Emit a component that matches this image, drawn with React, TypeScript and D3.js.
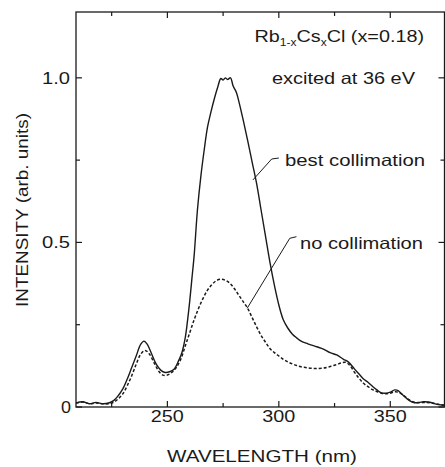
import React from "react";
import * as d3 from "d3";

const solidWl = [209, 212, 215, 218, 221, 224, 226, 228, 230, 232, 234, 236, 238, 239.5, 241, 243, 245, 247, 249, 251, 253, 255, 256.5, 258, 259, 260, 261, 262, 263.5, 265, 266.5, 268, 269.5, 271, 272.5, 274, 275, 276, 277, 278.3, 279.5, 281, 282, 284, 286, 288, 290, 292, 294, 296, 298, 300, 302, 304, 306, 308, 310, 313, 317, 320, 323, 326, 329, 331, 334, 336, 338, 340, 342, 344, 346, 348, 350, 352, 353.5, 355, 357, 359, 361, 363, 365, 367, 369, 371, 373, 375];
const solidVal = [0.012, 0.016, 0.01, 0.014, 0.01, 0.013, 0.02, 0.035, 0.055, 0.085, 0.12, 0.155, 0.19, 0.2, 0.19, 0.16, 0.13, 0.112, 0.105, 0.107, 0.115, 0.14, 0.165, 0.21, 0.26, 0.32, 0.39, 0.46, 0.6, 0.7, 0.78, 0.85, 0.895, 0.935, 0.97, 0.998, 0.993, 1.0, 0.995, 1.0, 0.975, 0.955, 0.93, 0.872, 0.81, 0.745, 0.68, 0.6, 0.52, 0.44, 0.37, 0.31, 0.265, 0.24, 0.222, 0.21, 0.2, 0.192, 0.183, 0.176, 0.165, 0.158, 0.145, 0.138, 0.115, 0.1, 0.085, 0.075, 0.063, 0.052, 0.043, 0.042, 0.045, 0.052, 0.05, 0.04, 0.028, 0.018, 0.013, 0.014, 0.016, 0.015, 0.012, 0.008, 0.006, 0.005];

const dashWl = [209, 212, 215, 218, 221, 224, 226, 228, 230, 232, 234, 236, 238, 240, 242, 244, 246, 248, 250, 252, 254, 256, 258, 260, 262, 264, 266, 268, 270, 272, 274, 276, 278, 280, 282, 284, 286, 288, 290, 292, 294, 296, 298, 300, 302, 304, 306, 308, 310, 312, 314, 316, 318, 320, 322, 324, 326, 328, 330, 332, 334, 336, 338, 340, 342, 344, 346, 348, 350, 352, 354, 356, 358, 360, 362, 365, 368, 371, 375];
const dashVal = [0.012, 0.015, 0.01, 0.012, 0.01, 0.01, 0.015, 0.025, 0.04, 0.065, 0.095, 0.13, 0.16, 0.172, 0.16, 0.135, 0.11, 0.097, 0.097, 0.105, 0.12, 0.145, 0.185, 0.225, 0.265, 0.3, 0.33, 0.355, 0.372, 0.384, 0.388, 0.385, 0.376, 0.36, 0.34, 0.32, 0.3, 0.272, 0.244, 0.218, 0.197, 0.178, 0.165, 0.155, 0.145, 0.137, 0.131, 0.126, 0.122, 0.12, 0.118, 0.117, 0.117, 0.118, 0.121, 0.125, 0.129, 0.134, 0.136, 0.125, 0.105, 0.087, 0.072, 0.062, 0.053, 0.047, 0.042, 0.04, 0.042, 0.046, 0.044, 0.035, 0.024, 0.016, 0.013, 0.014, 0.013, 0.009, 0.005];

const xMajorTicks = [250, 300, 350];
const xMinorTicks = [225, 275, 325, 375];
const yMajorTicks = [0, 0.5, 1.0];
const yMinorTicks = [0.25, 0.75];
const yTickLabels = ["0", "0.5", "1.0"];

const W = 445, H = 467;
const L = 76, R = 444.5, T = 12, B = 407;
const FONT = "'Liberation Sans', Arial, Helvetica, sans-serif";
const INK = "#1a1a1a";
const FS = 16.5;

export default function App() {
  const x = d3.scaleLinear().domain([209, 375]).range([L, 446]);
  const y = d3.scaleLinear().domain([0, 1.2]).range([B, T]);
  const line = d3.line<[number, number]>().x(d => x(d[0])).y(d => y(d[1])).curve(d3.curveCatmullRom);
  const solid = solidWl.map((w, i) => [w, solidVal[i]] as [number, number]);
  const dashed = dashWl.map((w, i) => [w, dashVal[i]] as [number, number]);

  const bestPath = `M${x(300)},158 L${x(296.8)},159 L${x(288.4)},${y(0.69)}`;
  const noPath = `M${x(307.9)},236.7 L${x(304.9)},238.3 L${x(285.8)},${y(0.30)}`;

  const txt = { fontFamily: FONT, fontSize: FS, fill: INK } as const;

  return (
    <svg width={W} height={H} style={{ position: "absolute", left: 0, top: 0, background: "#fff" }}>
      <defs>
        <clipPath id="plot"><rect x={L} y={T} width={R - L} height={B - T} /></clipPath>
      </defs>
      <rect x={0} y={0} width={W} height={H} fill="#fff" />
      <g clipPath="url(#plot)">
        <path d={line(dashed) || ""} fill="none" stroke={INK} strokeWidth={1.5} strokeDasharray="3,2" />
        <path d={line(solid) || ""} fill="none" stroke={INK} strokeWidth={1.4} />
      </g>
      <rect x={L} y={T} width={R - L} height={B - T} fill="none" stroke={INK} strokeWidth={1.3} />
      {xMajorTicks.map(t => (
        <g key={"xm" + t}>
          <line x1={x(t)} x2={x(t)} y1={B} y2={B - 6} stroke={INK} strokeWidth={1.2} />
          <line x1={x(t)} x2={x(t)} y1={T} y2={T + 6} stroke={INK} strokeWidth={1.2} />
          <text x={x(t) - 16.5} y={422} textLength={33} lengthAdjust="spacingAndGlyphs" {...txt}>{t}</text>
        </g>
      ))}
      {xMinorTicks.map(t => (
        <g key={"xn" + t}>
          <line x1={x(t)} x2={x(t)} y1={B} y2={B - 4} stroke={INK} strokeWidth={1.2} />
          <line x1={x(t)} x2={x(t)} y1={T} y2={T + 4} stroke={INK} strokeWidth={1.2} />
        </g>
      ))}
      {yMajorTicks.map((t, i) => {
        const w = yTickLabels[i].length === 1 ? 10 : 28;
        const right = yTickLabels[i].length === 1 ? 71 : 70;
        return (
          <g key={"ym" + t}>
            <line x1={L} x2={L + 6} y1={y(t)} y2={y(t)} stroke={INK} strokeWidth={1.2} />
            <line x1={R} x2={R - 6} y1={y(t)} y2={y(t)} stroke={INK} strokeWidth={1.2} />
            <text x={right - w} y={y(t) + 6} textLength={w} lengthAdjust="spacingAndGlyphs" {...txt}>{yTickLabels[i]}</text>
          </g>
        );
      })}
      {yMinorTicks.map(t => (
        <g key={"yn" + t}>
          <line x1={L} x2={L + 4} y1={y(t)} y2={y(t)} stroke={INK} strokeWidth={1.2} />
          <line x1={R} x2={R - 4} y1={y(t)} y2={y(t)} stroke={INK} strokeWidth={1.2} />
        </g>
      ))}
      <text x={167} y={462} textLength={190} lengthAdjust="spacingAndGlyphs" {...txt}>WAVELENGTH (nm)</text>
      <text transform="translate(28,307) rotate(-90)" textLength={194} lengthAdjust="spacingAndGlyphs" {...txt} fontSize={17}>INTENSITY (arb. units)</text>
      <text transform="translate(424,42) scale(1.2,1)" textAnchor="end" {...txt}>
        Rb<tspan fontSize={10} dy={4}>1-x</tspan><tspan dy={-4}>Cs</tspan><tspan fontSize={10} dy={4}>x</tspan><tspan dy={-4}>Cl (x=0.18)</tspan>
      </text>
      <text x={272} y={84} textLength={143} lengthAdjust="spacingAndGlyphs" {...txt}>excited at 36 eV</text>
      <text x={285} y={166} textLength={140} lengthAdjust="spacingAndGlyphs" {...txt}>best collimation</text>
      <text x={300} y={249} textLength={123} lengthAdjust="spacingAndGlyphs" {...txt}>no collimation</text>
      <path d={bestPath} fill="none" stroke={INK} strokeWidth={1} />
      <path d={noPath} fill="none" stroke={INK} strokeWidth={1} />
    </svg>
  );
}
